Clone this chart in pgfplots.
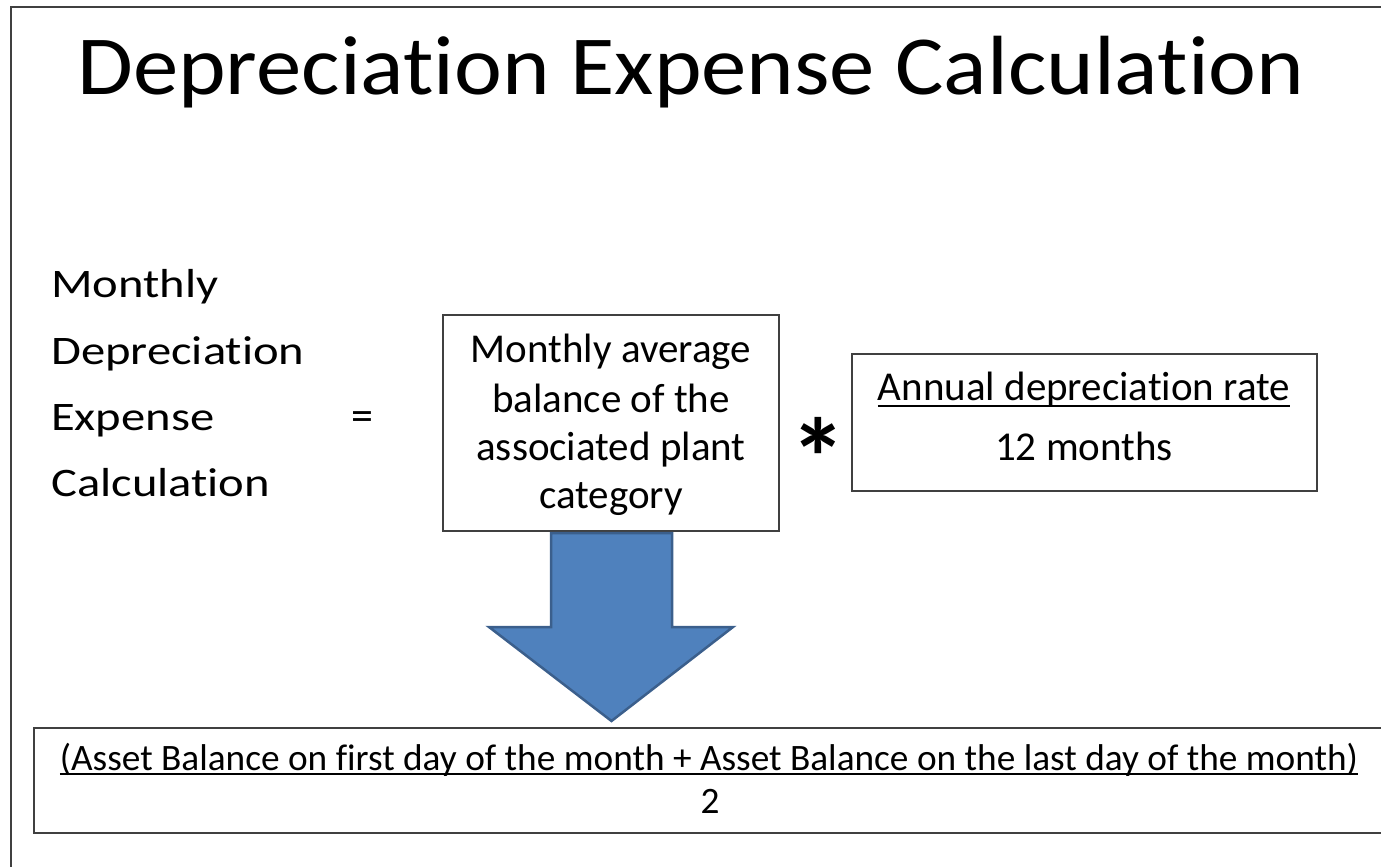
\documentclass[border=0pt]{standalone}
\usepackage{pgfplots}
\pgfplotsset{compat=1.18}
\usepackage{fontspec}
\setmainfont{Carlito}[Ligatures=NoCommon]
\newfontfamily\leftfont{Carlito}[Ligatures=NoCommon, FakeStretch=1.2]
\newfontfamily\titlefont{Carlito}[Ligatures=NoCommon, FakeStretch=1.08]
\definecolor{arrowfill}{HTML}{4F81BD}
\definecolor{arrowedge}{HTML}{3B5F8C}
\definecolor{frame}{HTML}{404040}
\newcommand\ul[2][6pt]{\setbox0\hbox{#2}\rlap{\rule[-#1]{\wd0}{2pt}}\box0}
\begin{document}
\begin{tikzpicture}
\begin{axis}[
  width=1381pt, height=867pt, scale only axis,
  xmin=0, xmax=1381, ymin=0, ymax=867, y dir=reverse,
  hide axis, clip=false]
% slide frame
\draw[frame, line width=2pt] (axis cs:11,867) -- (axis cs:11,7) -- (axis cs:1381,7);
% title
\node[anchor=base, font=\titlefont\fontsize{84}{100}\selectfont] at (axis cs:691,95) {Depreciation Expense Calculation};
% left label
\node[anchor=base west, inner sep=0pt, font=\leftfont\fontsize{40.5}{50}\selectfont] at (axis cs:51,297.5) {Monthly};
\node[anchor=base west, inner sep=0pt, font=\leftfont\fontsize{40.5}{50}\selectfont] at (axis cs:51,364) {Depreciation};
\node[anchor=base west, inner sep=0pt, font=\leftfont\fontsize{40.5}{50}\selectfont] at (axis cs:51,430) {Expense};
\node[anchor=base west, inner sep=0pt, font=\leftfont\fontsize{40.5}{50}\selectfont] at (axis cs:51,496) {Calculation};
\node[anchor=base, font=\fontsize{44}{50}\selectfont] at (axis cs:362,430) {=};
% box 1
\draw[frame, line width=1.5pt] (axis cs:443,315) rectangle (axis cs:779,531);
\node[anchor=base, font=\fontsize{41}{48}\selectfont] at (axis cs:611,362.5) {Monthly average};
\node[anchor=base, font=\fontsize{41}{48}\selectfont] at (axis cs:611,412) {balance of the};
\node[anchor=base, font=\fontsize{41}{48}\selectfont] at (axis cs:611,460) {associated plant};
\node[anchor=base, font=\fontsize{41}{48}\selectfont] at (axis cs:611,508) {category};
% asterisk
\node[anchor=north, inner sep=0pt, font=\fontsize{112}{120}\selectfont\bfseries] at (axis cs:818,417) {*};
% box 2
\draw[frame, line width=1.5pt] (axis cs:852,354) rectangle (axis cs:1317,491);
\node[anchor=base, font=\fontsize{41}{48}\selectfont] at (axis cs:1084,400) {\ul[6.7pt]{Annual depreciation rate}};
\node[anchor=base, font=\fontsize{41}{48}\selectfont] at (axis cs:1084,460) {12 months};
% arrow
\addplot[fill=arrowfill, draw=arrowedge, line width=2.5pt, line join=miter] coordinates {
  (551,533) (672,533) (672,627) (733,627) (611.5,721) (489,627) (551,627)} -- cycle;
% bottom box
\draw[frame, line width=1.5pt] (axis cs:1381,728) -- (axis cs:34,728) -- (axis cs:34,833) -- (axis cs:1381,833);
\node[anchor=base, font=\fontsize{37.3}{40}\selectfont] at (axis cs:709,770) {\ul[5pt]{(Asset Balance on first day of the month + Asset Balance on the last day of the month)}};
\node[anchor=base, font=\fontsize{37.3}{40}\selectfont] at (axis cs:710,813) {2};
\end{axis}
\pgfresetboundingbox
\path (current axis.south west) rectangle (current axis.north east);
\end{tikzpicture}
\end{document}
